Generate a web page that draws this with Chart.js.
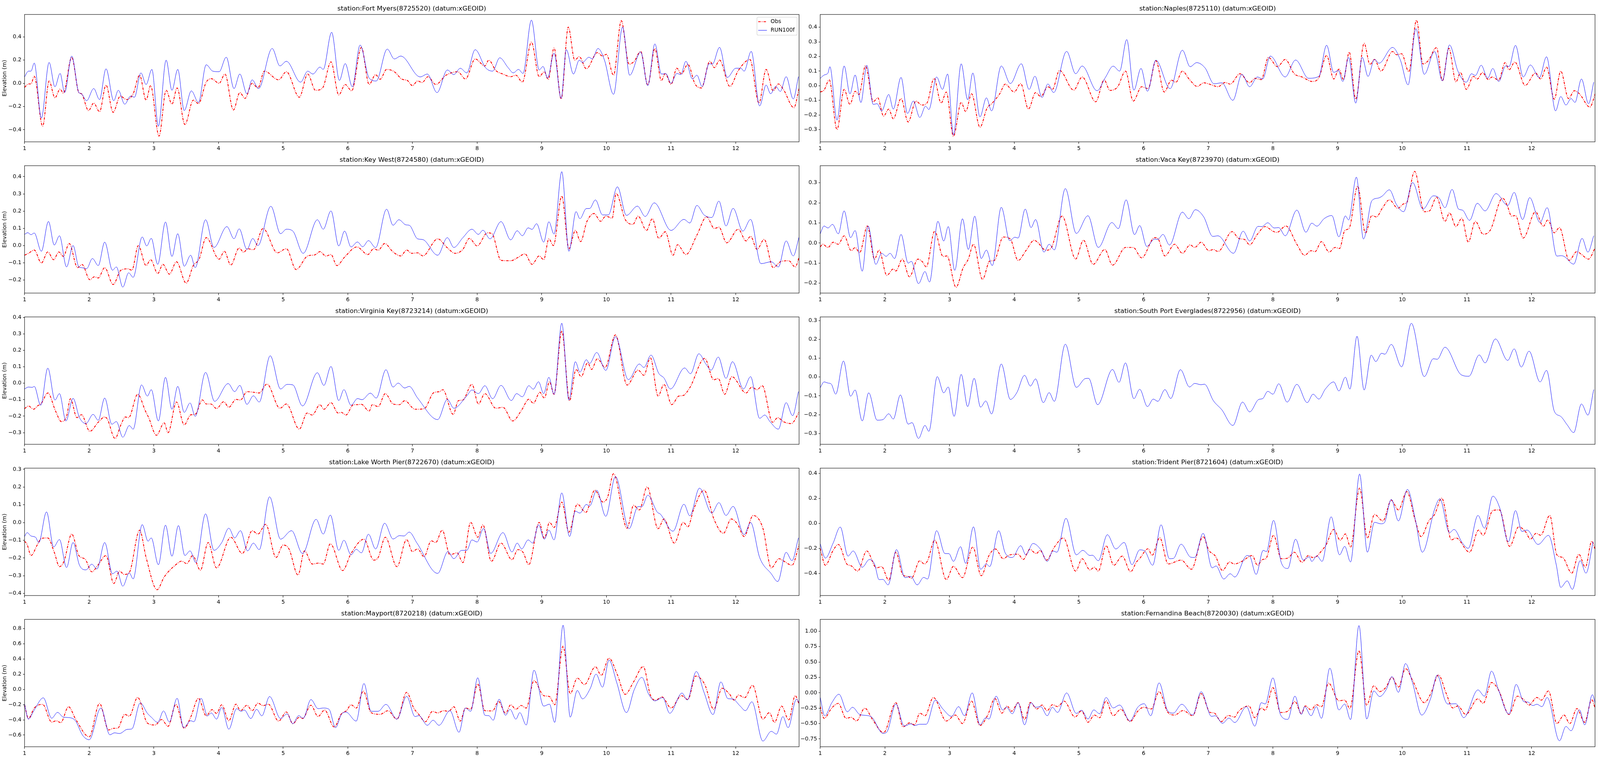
<!DOCTYPE html>
<html><head><meta charset="utf-8">
<script src="https://cdn.jsdelivr.net/npm/chart.js@4.4.1/dist/chart.umd.min.js"></script>
<style>html,body{margin:0;padding:0;background:#fff;overflow:hidden}canvas{position:absolute}</style>
</head><body>
<script>
const xTicks=[1,2,3,4,5,6,7,8,9,10,11,12];
const seriesLabels=['Obs','RUN100f'];
const fortMyersTicks=[-0.4,-0.2,0,0.2,0.4];
const naplesTicks=[-0.3,-0.2,-0.1,0,0.1,0.2,0.3,0.4];
const keyWestTicks=[-0.2,-0.1,0,0.1,0.2,0.3,0.4];
const vacaKeyTicks=[-0.2,-0.1,0,0.1,0.2,0.3];
const virginiaKeyTicks=[-0.3,-0.2,-0.1,0,0.1,0.2,0.3,0.4];
const southPortTicks=[-0.3,-0.2,-0.1,0,0.1,0.2,0.3];
const lakeWorthTicks=[-0.4,-0.3,-0.2,-0.1,0,0.1,0.2,0.3];
const tridentTicks=[-0.4,-0.2,0,0.2,0.4];
const mayportTicks=[-0.6,-0.4,-0.2,0,0.2,0.4,0.6,0.8];
const fernandinaTicks=[-0.75,-0.5,-0.25,0,0.25,0.5,0.75,1.0];
const fortMyersRun=[[1.00,0.055],[1.06,0.105],[1.10,0.105],[1.15,0.175],[1.26,-0.30],[1.38,0.18],[1.47,-0.03],[1.55,0.085],[1.62,-0.08],[1.73,0.235],[1.84,-0.08],[1.88,-0.09],[1.96,-0.15],[2.07,-0.045],[2.16,-0.14],[2.26,0.125],[2.38,-0.15],[2.45,-0.06],[2.55,-0.18],[2.64,-0.11],[2.70,-0.12],[2.80,0.09],[2.88,-0.01],[2.97,0.12],[3.07,-0.37],[3.19,0.20],[3.28,-0.06],[3.37,0.12],[3.47,-0.235],[3.58,-0.065],[3.69,-0.165],[3.81,0.16],[3.91,0.105],[4.01,0.10],[4.12,0.225],[4.24,-0.045],[4.33,0.08],[4.44,-0.09],[4.52,0.03],[4.62,-0.045],[4.83,0.30],[4.95,0.15],[5.05,0.19],[5.27,0.01],[5.38,0.105],[5.46,0.08],[5.57,0.14],[5.62,0.12],[5.75,0.44],[5.87,0.025],[5.96,0.17],[6.07,-0.03],[6.19,0.33],[6.33,0.045],[6.44,0.02],[6.61,0.295],[6.72,0.21],[6.82,0.235],[7.12,0.055],[7.23,0.08],[7.38,-0.08],[7.54,0.115],[7.64,0.075],[7.74,0.13],[7.84,0.09],[7.97,0.29],[8.13,0.135],[8.24,0.105],[8.35,0.22],[8.48,0.135],[8.56,0.09],[8.64,0.12],[8.71,0.085],[8.84,0.545],[8.96,0.115],[9.02,0.145],[9.09,0.045],[9.19,0.26],[9.30,-0.13],[9.38,0.29],[9.49,0.08],[9.58,0.20],[9.63,0.18],[9.73,0.225],[9.78,0.21],[9.87,0.30],[9.97,0.20],[10.11,-0.095],[10.25,0.485],[10.36,0.07],[10.53,0.27],[10.64,-0.02],[10.75,0.34],[10.85,0.08],[10.92,0.083],[11.00,0.0],[11.09,0.085],[11.15,0.075],[11.23,0.19],[11.33,0.037],[11.40,0.07],[11.48,-0.027],[11.59,0.17],[11.64,0.165],[11.75,0.31],[11.87,0.05],[12.00,0.13],[12.08,0.13],[12.13,0.105],[12.24,0.275],[12.37,-0.195],[12.47,-0.015],[12.54,-0.09],[12.62,-0.027],[12.69,-0.07],[12.78,0.057],[12.89,-0.135],[12.97,0.057]];
const fortMyersObs=[[1.00,-0.035],[1.06,-0.005],[1.10,-0.005],[1.15,0.06],[1.28,-0.37],[1.38,0.02],[1.47,-0.125],[1.55,-0.05],[1.60,-0.085],[1.73,0.225],[1.84,-0.08],[1.88,-0.09],[1.99,-0.235],[2.07,-0.17],[2.16,-0.245],[2.26,-0.015],[2.37,-0.25],[2.48,-0.11],[2.58,-0.14],[2.68,-0.09],[2.78,0.07],[2.88,-0.145],[2.95,-0.02],[3.08,-0.455],[3.19,-0.06],[3.28,-0.18],[3.36,-0.04],[3.48,-0.355],[3.61,-0.145],[3.69,-0.175],[3.81,0.01],[3.89,0.04],[4.01,0.0],[4.10,0.08],[4.23,-0.23],[4.33,-0.08],[4.41,-0.13],[4.52,0.0],[4.61,-0.04],[4.71,0.105],[4.93,0.03],[5.05,0.10],[5.25,-0.12],[5.38,0.08],[5.50,-0.06],[5.61,-0.04],[5.74,0.185],[5.86,-0.10],[5.96,-0.01],[6.06,-0.065],[6.21,0.31],[6.33,-0.01],[6.43,0.075],[6.50,0.035],[6.60,0.12],[6.72,0.10],[6.84,0.035],[6.92,0.025],[7.00,-0.02],[7.08,0.02],[7.15,0.007],[7.24,0.057],[7.36,-0.01],[7.52,0.07],[7.70,0.10],[7.82,0.037],[7.97,0.21],[8.12,0.15],[8.18,0.20],[8.29,0.11],[8.40,0.08],[8.52,0.057],[8.60,0.07],[8.70,0.01],[8.84,0.355],[8.96,0.057],[9.04,0.10],[9.10,0.033],[9.19,0.305],[9.30,-0.135],[9.41,0.485],[9.51,0.20],[9.58,0.23],[9.69,0.125],[9.86,0.265],[9.94,0.235],[10.00,0.25],[10.11,0.07],[10.23,0.54],[10.35,0.165],[10.43,0.19],[10.53,0.275],[10.64,-0.015],[10.75,0.30],[10.85,0.023],[10.91,0.085],[11.00,-0.008],[11.09,0.13],[11.16,0.08],[11.26,0.165],[11.37,-0.005],[11.47,-0.04],[11.60,0.19],[11.67,0.135],[11.75,0.20],[11.91,-0.027],[12.04,0.11],[12.22,0.205],[12.36,-0.17],[12.47,0.12],[12.58,-0.065],[12.66,-0.005],[12.74,-0.055],[12.90,-0.21],[12.98,-0.045]];
const naplesRun=[[1.00,0.05],[1.06,0.073],[1.12,0.087],[1.15,0.13],[1.26,-0.235],[1.37,0.135],[1.46,-0.056],[1.54,0.073],[1.63,-0.115],[1.72,0.14],[1.82,-0.128],[1.88,-0.123],[1.95,-0.172],[2.06,-0.06],[2.13,-0.16],[2.25,0.057],[2.35,-0.19],[2.44,-0.105],[2.54,-0.217],[2.63,-0.14],[2.68,-0.163],[2.80,0.06],[2.89,-0.025],[2.97,0.08],[3.06,-0.337],[3.18,0.15],[3.28,-0.096],[3.36,0.087],[3.47,-0.213],[3.57,-0.083],[3.65,-0.172],[3.80,0.135],[3.94,0.015],[4.11,0.15],[4.23,-0.025],[4.32,0.065],[4.43,-0.08],[4.52,0.012],[4.61,-0.047],[4.81,0.235],[4.95,0.082],[5.05,0.135],[5.28,-0.034],[5.41,0.057],[5.53,0.134],[5.63,0.10],[5.74,0.316],[5.85,-0.03],[5.96,0.118],[6.06,-0.038],[6.19,0.175],[6.41,-0.02],[6.60,0.243],[6.72,0.13],[6.82,0.158],[6.95,0.122],[7.09,0.013],[7.21,0.02],[7.38,-0.10],[7.52,0.078],[7.64,-0.007],[7.76,0.06],[7.84,0.046],[7.96,0.203],[8.19,0.06],[8.35,0.176],[8.55,0.051],[8.71,0.064],[8.83,0.277],[8.94,0.091],[9.01,0.104],[9.08,0.029],[9.17,0.194],[9.28,-0.119],[9.38,0.194],[9.47,0.064],[9.57,0.18],[9.64,0.154],[9.85,0.262],[9.97,0.176],[10.09,0.006],[10.21,0.39],[10.34,0.078],[10.50,0.234],[10.62,0.033],[10.73,0.279],[10.86,0.10],[10.99,0.024],[11.07,0.082],[11.13,0.07],[11.22,0.14],[11.32,0.051],[11.40,0.118],[11.49,0.029],[11.60,0.136],[11.65,0.131],[11.75,0.276],[11.87,0.06],[11.98,0.142],[12.12,0.055],[12.23,0.198],[12.37,-0.172],[12.45,-0.074],[12.53,-0.132],[12.61,-0.088],[12.67,-0.114],[12.77,0.046],[12.88,-0.123],[12.96,0.024]];
const naplesObs=[[1.00,-0.043],[1.06,-0.03],[1.14,0.04],[1.26,-0.30],[1.37,-0.025],[1.46,-0.128],[1.54,-0.038],[1.60,-0.06],[1.70,0.136],[1.82,-0.11],[1.89,-0.083],[1.98,-0.208],[2.06,-0.16],[2.13,-0.226],[2.25,-0.088],[2.36,-0.248],[2.48,-0.105],[2.57,-0.132],[2.65,-0.119],[2.76,0.05],[2.87,-0.119],[2.95,-0.043],[3.06,-0.346],[3.18,-0.114],[3.25,-0.177],[3.34,-0.055],[3.47,-0.284],[3.58,-0.153],[3.66,-0.119],[3.78,-0.052],[3.86,0.011],[4.00,-0.043],[4.10,0.015],[4.22,-0.16],[4.33,-0.047],[4.41,-0.074],[4.52,-0.007],[4.59,-0.025],[4.70,0.105],[4.92,-0.03],[5.05,0.06],[5.26,-0.11],[5.39,0.04],[5.48,-0.032],[5.60,-0.007],[5.72,0.10],[5.84,-0.105],[5.97,-0.007],[6.07,-0.02],[6.19,0.171],[6.32,-0.043],[6.43,0.038],[6.50,0.024],[6.60,0.10],[6.71,0.042],[6.83,-0.005],[6.93,0.02],[7.05,0.006],[7.15,-0.007],[7.26,0.022],[7.34,0.011],[7.49,0.082],[7.64,0.02],[7.72,0.05],[7.82,0.042],[7.93,0.194],[8.07,0.13],[8.19,0.18],[8.33,0.082],[8.45,0.06],[8.61,0.029],[8.71,0.055],[8.83,0.207],[8.94,0.046],[9.02,0.113],[9.09,0.042],[9.18,0.23],[9.28,-0.092],[9.41,0.29],[9.50,0.145],[9.57,0.18],[9.67,0.10],[9.85,0.234],[9.91,0.212],[9.99,0.219],[10.10,0.096],[10.22,0.448],[10.32,0.149],[10.40,0.171],[10.53,0.261],[10.62,0.033],[10.72,0.256],[10.83,0.026],[10.90,0.091],[10.99,-0.025],[11.10,0.064],[11.16,0.046],[11.24,0.091],[11.33,0.042],[11.39,0.06],[11.49,0.038],[11.59,0.158],[11.65,0.109],[11.74,0.162],[11.90,0.002],[12.06,0.087],[12.14,0.046],[12.23,0.127],[12.35,-0.092],[12.45,0.10],[12.57,-0.088],[12.66,-0.034],[12.74,-0.056],[12.90,-0.146],[12.99,-0.047]];
const keyWestRun=[[1.00,0.065],[1.05,0.075],[1.10,0.063],[1.15,0.073],[1.26,-0.033],[1.37,0.14],[1.46,0.003],[1.54,0.057],[1.65,-0.124],[1.75,0.0],[1.84,-0.124],[1.88,-0.128],[1.96,-0.134],[2.05,-0.075],[2.14,-0.116],[2.24,0.02],[2.36,-0.143],[2.42,-0.124],[2.52,-0.241],[2.61,-0.158],[2.68,-0.184],[2.82,0.05],[2.89,-0.002],[2.96,0.042],[3.06,-0.109],[3.18,0.137],[3.28,-0.063],[3.37,0.069],[3.47,-0.12],[3.57,-0.056],[3.64,-0.128],[3.80,0.15],[3.93,-0.011],[4.13,0.11],[4.24,0.04],[4.32,0.097],[4.44,-0.022],[4.53,0.041],[4.61,0.0],[4.81,0.228],[4.96,0.069],[5.05,0.095],[5.15,0.084],[5.31,-0.045],[5.53,0.15],[5.62,0.095],[5.74,0.201],[5.86,-0.002],[5.95,0.084],[6.05,-0.008],[6.15,0.021],[6.23,-0.007],[6.32,0.029],[6.43,-0.012],[6.60,0.211],[6.70,0.118],[6.79,0.15],[6.90,0.12],[6.95,0.118],[7.08,0.039],[7.16,0.035],[7.39,-0.056],[7.54,0.046],[7.64,-0.011],[7.78,0.046],[7.92,0.095],[8.02,0.065],[8.09,0.089],[8.20,0.039],[8.37,0.139],[8.52,0.033],[8.62,0.086],[8.70,0.057],[8.79,0.103],[8.85,0.094],[8.92,0.127],[9.03,0.02],[9.11,0.138],[9.19,0.067],[9.31,0.429],[9.42,-0.033],[9.53,0.197],[9.59,0.156],[9.69,0.215],[9.74,0.215],[9.83,0.265],[9.94,0.178],[10.03,0.178],[10.17,0.341],[10.31,0.175],[10.48,0.229],[10.60,0.169],[10.74,0.248],[11.00,0.088],[11.20,0.152],[11.29,0.131],[11.40,0.233],[11.51,0.178],[11.63,0.163],[11.74,0.258],[11.85,0.114],[11.96,0.216],[12.11,0.084],[12.23,0.152],[12.39,-0.105],[12.55,-0.094],[12.66,-0.124],[12.78,0.027],[12.89,-0.06],[12.98,0.05]];
const keyWestObs=[[1.00,-0.056],[1.06,-0.045],[1.15,-0.026],[1.26,-0.101],[1.36,-0.037],[1.45,-0.082],[1.53,-0.037],[1.60,-0.063],[1.69,0.012],[1.82,-0.128],[1.89,-0.11],[2.01,-0.198],[2.08,-0.181],[2.14,-0.188],[2.24,-0.128],[2.37,-0.226],[2.49,-0.143],[2.60,-0.135],[2.66,-0.143],[2.76,0.0],[2.88,-0.116],[2.95,-0.082],[3.06,-0.162],[3.14,-0.109],[3.24,-0.166],[3.35,-0.094],[3.50,-0.218],[3.61,-0.116],[3.70,-0.079],[3.81,0.046],[4.01,-0.079],[4.09,-0.033],[4.19,-0.113],[4.32,-0.014],[4.39,-0.039],[4.45,-0.018],[4.54,-0.024],[4.69,0.099],[4.91,-0.042],[5.05,-0.018],[5.20,-0.139],[5.38,-0.06],[5.49,-0.054],[5.57,-0.035],[5.66,-0.061],[5.74,-0.052],[5.83,-0.116],[5.95,-0.067],[6.14,-0.008],[6.31,-0.052],[6.40,-0.018],[6.47,-0.027],[6.57,0.012],[6.70,-0.037],[6.82,-0.06],[6.91,-0.026],[6.99,-0.045],[7.08,-0.042],[7.16,-0.06],[7.39,0.039],[7.54,-0.013],[7.66,-0.045],[7.78,-0.022],[7.88,0.042],[8.00,-0.002],[8.16,0.074],[8.23,0.069],[8.37,-0.086],[8.52,-0.088],[8.64,-0.067],[8.74,-0.048],[8.85,-0.109],[8.96,-0.06],[9.03,-0.082],[9.11,0.039],[9.18,0.0],[9.31,0.288],[9.42,-0.018],[9.52,0.088],[9.60,0.023],[9.70,0.141],[9.81,0.186],[9.91,0.141],[9.99,0.171],[10.09,0.159],[10.15,0.303],[10.29,0.152],[10.41,0.123],[10.49,0.171],[10.62,0.088],[10.71,0.156],[10.81,0.042],[10.91,0.08],[11.03,-0.056],[11.10,0.005],[11.23,-0.052],[11.40,0.061],[11.55,0.167],[11.67,0.099],[11.74,0.107],[11.86,0.016],[12.04,0.095],[12.16,0.027],[12.23,0.054],[12.33,-0.022],[12.44,0.036],[12.58,-0.128],[12.70,-0.092],[12.82,-0.088],[12.92,-0.124],[12.99,-0.056]];
const vacaKeyRun=[[1.00,0.046],[1.06,0.085],[1.12,0.075],[1.19,0.093],[1.28,0.046],[1.37,0.16],[1.47,0.027],[1.54,0.062],[1.65,-0.14],[1.74,0.085],[1.86,-0.106],[1.95,-0.051],[2.02,-0.066],[2.08,-0.051],[2.15,-0.077],[2.25,0.043],[2.36,-0.10],[2.41,-0.091],[2.52,-0.202],[2.62,-0.142],[2.69,-0.194],[2.82,0.108],[2.91,0.01],[2.98,0.082],[3.08,-0.136],[3.20,0.121],[3.29,-0.032],[3.39,0.134],[3.49,-0.077],[3.57,-0.035],[3.66,-0.112],[3.80,0.178],[3.93,0.012],[4.01,0.029],[4.06,0.025],[4.17,0.169],[4.26,0.077],[4.33,0.117],[4.46,-0.045],[4.54,-0.006],[4.62,-0.034],[4.79,0.271],[4.96,0.048],[5.14,0.136],[5.30,-0.022],[5.51,0.102],[5.61,0.072],[5.73,0.215],[5.86,0.042],[5.94,0.087],[6.05,-0.017],[6.17,0.02],[6.22,0.018],[6.30,0.043],[6.40,-0.01],[6.60,0.154],[6.70,0.121],[6.80,0.166],[6.93,0.13],[7.07,0.033],[7.15,0.036],[7.39,-0.051],[7.54,0.059],[7.64,0.01],[7.77,0.083],[7.83,0.082],[7.92,0.101],[8.02,0.075],[8.09,0.077],[8.19,0.036],[8.37,0.164],[8.51,0.054],[8.60,0.099],[8.68,0.084],[8.79,0.121],[8.91,0.137],[9.02,0.031],[9.12,0.135],[9.17,0.115],[9.29,0.328],[9.40,0.02],[9.53,0.211],[9.63,0.224],[9.69,0.234],[9.80,0.265],[9.91,0.192],[10.02,0.156],[10.16,0.301],[10.32,0.169],[10.48,0.235],[10.57,0.224],[10.66,0.176],[10.77,0.267],[10.87,0.169],[10.93,0.164],[11.04,0.113],[11.16,0.198],[11.28,0.16],[11.45,0.246],[11.63,0.187],[11.73,0.252],[11.86,0.117],[11.97,0.226],[12.13,0.102],[12.24,0.176],[12.39,-0.065],[12.45,-0.063],[12.50,-0.066],[12.65,-0.105],[12.78,0.023],[12.87,-0.045],[12.96,0.036]];
const vacaKeyObs=[[1.00,-0.019],[1.04,-0.006],[1.12,-0.022],[1.20,0.004],[1.28,-0.006],[1.37,0.036],[1.48,-0.038],[1.54,-0.022],[1.61,-0.048],[1.73,0.085],[1.84,-0.08],[1.91,-0.035],[2.03,-0.161],[2.13,-0.129],[2.17,-0.139],[2.27,-0.08],[2.38,-0.168],[2.51,-0.08],[2.58,-0.093],[2.64,-0.119],[2.77,0.059],[2.90,-0.067],[2.96,-0.064],[3.10,-0.22],[3.21,-0.123],[3.29,-0.08],[3.37,-0.006],[3.51,-0.181],[3.62,-0.09],[3.69,-0.087],[3.83,0.03],[3.94,0.02],[4.06,-0.087],[4.18,-0.038],[4.31,0.014],[4.36,0.004],[4.49,-0.036],[4.57,-0.025],[4.74,0.134],[4.95,-0.079],[5.07,0.014],[5.22,-0.106],[5.40,-0.032],[5.52,-0.11],[5.72,-0.022],[5.84,-0.022],[5.97,-0.074],[6.17,0.027],[6.22,0.023],[6.33,-0.064],[6.48,-0.006],[6.60,-0.051],[6.72,-0.009],[6.79,-0.022],[6.89,0.004],[7.01,-0.038],[7.08,-0.032],[7.15,-0.042],[7.37,0.057],[7.47,0.023],[7.56,0.018],[7.64,-0.009],[7.76,0.044],[7.88,0.082],[8.00,0.059],[8.06,0.053],[8.20,0.085],[8.37,-0.006],[8.49,-0.061],[8.59,-0.038],[8.65,-0.043],[8.75,0.007],[8.87,-0.045],[8.96,-0.022],[9.03,-0.027],[9.11,0.062],[9.18,0.075],[9.31,0.283],[9.43,0.049],[9.53,0.137],[9.60,0.13],[9.69,0.173],[9.80,0.215],[9.93,0.173],[10.02,0.195],[10.07,0.202],[10.19,0.357],[10.34,0.156],[10.42,0.16],[10.53,0.228],[10.66,0.108],[10.73,0.15],[10.83,0.082],[10.92,0.124],[11.02,0.005],[11.13,0.108],[11.25,0.044],[11.36,0.064],[11.55,0.224],[11.62,0.189],[11.69,0.134],[11.75,0.137],[11.87,0.025],[12.06,0.156],[12.18,0.083],[12.25,0.115],[12.35,0.051],[12.43,0.077],[12.58,-0.086],[12.70,-0.042],[12.76,-0.054],[12.88,-0.08],[12.98,-0.025]];
const virginiaKeyRun=[[1.00,-0.035],[1.06,-0.023],[1.12,-0.025],[1.15,-0.019],[1.25,-0.134],[1.36,0.092],[1.47,-0.102],[1.54,-0.063],[1.64,-0.229],[1.75,-0.092],[1.85,-0.209],[1.95,-0.245],[2.06,-0.189],[2.14,-0.225],[2.24,-0.09],[2.35,-0.249],[2.42,-0.233],[2.52,-0.328],[2.62,-0.257],[2.68,-0.279],[2.81,-0.01],[2.90,-0.078],[2.96,-0.039],[3.07,-0.229],[3.18,0.036],[3.28,-0.158],[3.37,-0.019],[3.47,-0.177],[3.56,-0.12],[3.64,-0.201],[3.80,0.066],[3.94,-0.11],[4.15,-0.002],[4.25,-0.051],[4.33,-0.013],[4.44,-0.128],[4.54,-0.076],[4.63,-0.114],[4.80,0.167],[4.96,-0.035],[5.06,-0.007],[5.15,-0.01],[5.30,-0.138],[5.53,0.064],[5.63,-0.013],[5.74,0.102],[5.86,-0.105],[5.94,-0.039],[6.05,-0.134],[6.15,-0.093],[6.22,-0.10],[6.35,-0.06],[6.44,-0.09],[6.59,0.082],[6.70,-0.023],[6.78,0.001],[6.88,-0.029],[6.95,-0.019],[7.08,-0.09],[7.39,-0.221],[7.54,-0.098],[7.64,-0.152],[7.84,-0.077],[7.92,-0.041],[8.02,-0.063],[8.12,-0.015],[8.24,-0.094],[8.37,-0.013],[8.53,-0.105],[8.61,-0.063],[8.70,-0.082],[8.80,-0.015],[8.87,-0.036],[8.95,0.009],[9.03,-0.063],[9.11,0.036],[9.19,-0.067],[9.31,0.365],[9.42,-0.102],[9.52,0.131],[9.59,0.068],[9.69,0.143],[9.74,0.12],[9.85,0.187],[9.99,0.078],[10.14,0.283],[10.34,0.022],[10.51,0.117],[10.58,0.096],[10.69,0.171],[10.81,0.06],[10.89,0.032],[10.99,-0.035],[11.21,0.093],[11.30,0.058],[11.43,0.179],[11.54,0.116],[11.62,0.08],[11.73,0.159],[11.85,0.03],[11.95,0.131],[12.12,-0.035],[12.23,0.04],[12.37,-0.213],[12.45,-0.193],[12.53,-0.233],[12.66,-0.279],[12.78,-0.118],[12.88,-0.197],[12.97,-0.051]];
const virginiaKeyObs=[[1.00,-0.155],[1.06,-0.138],[1.14,-0.158],[1.20,-0.138],[1.26,-0.122],[1.36,-0.059],[1.48,-0.169],[1.57,-0.233],[1.65,-0.201],[1.71,-0.094],[1.81,-0.209],[1.88,-0.191],[2.01,-0.292],[2.14,-0.237],[2.24,-0.205],[2.28,-0.217],[2.40,-0.336],[2.49,-0.253],[2.56,-0.205],[2.61,-0.209],[2.75,-0.067],[2.87,-0.169],[2.92,-0.209],[3.04,-0.316],[3.16,-0.241],[3.22,-0.30],[3.35,-0.114],[3.47,-0.253],[3.57,-0.192],[3.64,-0.189],[3.75,-0.101],[3.81,-0.126],[3.88,-0.126],[3.97,-0.154],[4.08,-0.112],[4.16,-0.146],[4.27,-0.098],[4.34,-0.102],[4.44,-0.051],[4.55,-0.055],[4.63,-0.059],[4.75,-0.005],[4.95,-0.152],[5.05,-0.126],[5.25,-0.279],[5.37,-0.181],[5.45,-0.193],[5.57,-0.13],[5.63,-0.158],[5.74,-0.118],[5.85,-0.181],[5.90,-0.177],[5.97,-0.193],[6.09,-0.13],[6.15,-0.13],[6.21,-0.128],[6.33,-0.169],[6.38,-0.13],[6.47,-0.142],[6.58,-0.063],[6.70,-0.126],[6.80,-0.13],[6.88,-0.106],[7.04,-0.158],[7.18,-0.155],[7.33,-0.057],[7.42,-0.051],[7.47,-0.039],[7.63,-0.189],[7.71,-0.106],[7.78,-0.102],[7.92,-0.006],[8.02,-0.126],[8.12,-0.063],[8.29,-0.152],[8.40,-0.146],[8.55,-0.229],[8.69,-0.162],[8.80,-0.097],[8.87,-0.122],[8.97,-0.055],[9.04,-0.09],[9.12,0.009],[9.19,-0.067],[9.31,0.318],[9.43,-0.106],[9.53,0.084],[9.61,0.04],[9.71,0.125],[9.77,0.084],[9.86,0.149],[9.98,0.096],[10.14,0.294],[10.32,-0.011],[10.49,0.08],[10.58,0.048],[10.68,0.155],[10.80,-0.078],[10.89,-0.007],[11.01,-0.13],[11.12,-0.078],[11.19,-0.074],[11.29,-0.027],[11.52,0.151],[11.66,0.021],[11.73,0.029],[11.83,-0.067],[11.94,0.04],[12.16,-0.059],[12.25,-0.023],[12.33,-0.039],[12.41,-0.015],[12.57,-0.237],[12.65,-0.209],[12.74,-0.234],[12.86,-0.245],[12.98,-0.176]];
const southPortRun=[[1.00,-0.057],[1.06,-0.026],[1.12,-0.032],[1.17,-0.037],[1.24,-0.091],[1.36,0.085],[1.47,-0.102],[1.54,-0.069],[1.65,-0.233],[1.75,-0.084],[1.88,-0.229],[1.97,-0.226],[2.06,-0.195],[2.13,-0.223],[2.24,-0.095],[2.36,-0.25],[2.42,-0.242],[2.52,-0.326],[2.62,-0.257],[2.68,-0.288],[2.81,0.002],[2.91,-0.084],[2.98,-0.053],[3.07,-0.209],[3.18,0.014],[3.28,-0.157],[3.38,-0.007],[3.48,-0.16],[3.56,-0.127],[3.65,-0.196],[3.80,0.069],[3.94,-0.119],[4.04,-0.083],[4.16,0.009],[4.25,-0.048],[4.33,-0.01],[4.45,-0.136],[4.54,-0.083],[4.62,-0.129],[4.79,0.174],[4.96,-0.055],[5.10,-0.008],[5.15,-0.007],[5.29,-0.147],[5.52,0.04],[5.62,-0.028],[5.72,0.075],[5.85,-0.115],[5.94,-0.065],[6.06,-0.157],[6.15,-0.117],[6.22,-0.129],[6.33,-0.067],[6.42,-0.114],[6.57,0.039],[6.71,-0.053],[6.79,-0.034],[6.89,-0.041],[6.94,-0.038],[7.08,-0.126],[7.21,-0.174],[7.38,-0.257],[7.53,-0.133],[7.64,-0.185],[7.78,-0.119],[7.84,-0.115],[7.92,-0.076],[8.00,-0.091],[8.09,-0.036],[8.22,-0.133],[8.37,-0.039],[8.53,-0.136],[8.62,-0.091],[8.71,-0.117],[8.81,-0.064],[8.94,-0.026],[9.02,-0.074],[9.12,-0.001],[9.19,-0.064],[9.30,0.216],[9.41,-0.069],[9.52,0.116],[9.59,0.082],[9.68,0.126],[9.73,0.121],[9.83,0.173],[9.99,0.054],[10.14,0.285],[10.34,0.002],[10.48,0.097],[10.54,0.094],[10.66,0.158],[10.91,0.012],[11.03,0.004],[11.19,0.117],[11.28,0.075],[11.44,0.202],[11.63,0.088],[11.73,0.149],[11.84,0.053],[11.96,0.137],[12.13,-0.026],[12.23,0.035],[12.35,-0.181],[12.45,-0.209],[12.55,-0.254],[12.65,-0.295],[12.77,-0.143],[12.87,-0.202],[12.96,-0.067]];
const southPortObs=[];
const lakeWorthRun=[[1.00,-0.079],[1.04,-0.057],[1.10,-0.076],[1.17,-0.083],[1.22,-0.113],[1.34,0.06],[1.45,-0.138],[1.54,-0.096],[1.65,-0.254],[1.75,-0.113],[1.85,-0.241],[1.95,-0.267],[2.04,-0.235],[2.12,-0.262],[2.24,-0.113],[2.36,-0.289],[2.43,-0.274],[2.52,-0.359],[2.62,-0.284],[2.68,-0.318],[2.82,-0.012],[2.91,-0.105],[2.96,-0.087],[3.07,-0.238],[3.18,-0.015],[3.28,-0.19],[3.38,-0.017],[3.48,-0.186],[3.56,-0.16],[3.65,-0.226],[3.80,0.049],[3.93,-0.157],[4.05,-0.113],[4.16,-0.032],[4.25,-0.087],[4.34,-0.046],[4.45,-0.16],[4.54,-0.116],[4.63,-0.153],[4.79,0.145],[4.96,-0.094],[5.13,-0.046],[5.30,-0.175],[5.51,0.018],[5.62,-0.065],[5.73,0.042],[5.86,-0.157],[5.94,-0.10],[6.05,-0.182],[6.13,-0.151],[6.21,-0.171],[6.32,-0.066],[6.43,-0.149],[6.57,-0.004],[6.70,-0.093],[6.80,-0.074],[6.87,-0.076],[6.95,-0.054],[7.07,-0.116],[7.39,-0.287],[7.55,-0.164],[7.64,-0.204],[7.76,-0.157],[7.84,-0.157],[7.92,-0.098],[8.00,-0.11],[8.10,-0.034],[8.21,-0.174],[8.40,-0.057],[8.54,-0.166],[8.62,-0.116],[8.69,-0.149],[8.79,-0.098],[8.86,-0.116],[8.95,-0.013],[9.04,-0.094],[9.11,-0.043],[9.19,-0.098],[9.31,0.167],[9.43,-0.079],[9.52,0.064],[9.59,0.053],[9.69,0.102],[9.74,0.093],[9.85,0.182],[9.99,0.035],[10.14,0.259],[10.35,-0.035],[10.49,0.09],[10.55,0.09],[10.64,0.154],[10.79,0.057],[10.83,0.049],[11.03,-0.049],[11.20,0.103],[11.29,0.038],[11.44,0.194],[11.63,0.053],[11.74,0.112],[11.85,0.04],[11.96,0.091],[12.13,-0.068],[12.23,0.0],[12.37,-0.197],[12.55,-0.289],[12.65,-0.333],[12.78,-0.168],[12.87,-0.215],[12.97,-0.087]];
const lakeWorthObs=[[1.00,-0.105],[1.04,-0.124],[1.10,-0.186],[1.20,-0.124],[1.26,-0.09],[1.36,-0.087],[1.46,-0.168],[1.54,-0.249],[1.61,-0.219],[1.73,-0.065],[1.84,-0.186],[1.94,-0.208],[2.04,-0.278],[2.14,-0.238],[2.26,-0.186],[2.38,-0.344],[2.47,-0.274],[2.54,-0.293],[2.62,-0.282],[2.78,-0.043],[2.88,-0.197],[3.05,-0.379],[3.16,-0.307],[3.34,-0.238],[3.43,-0.218],[3.51,-0.232],[3.60,-0.186],[3.72,-0.269],[3.84,-0.113],[3.97,-0.256],[4.19,-0.083],[4.37,-0.175],[4.41,-0.153],[4.52,-0.046],[4.61,-0.065],[4.73,-0.01],[4.89,-0.197],[5.00,-0.127],[5.09,-0.149],[5.23,-0.296],[5.33,-0.16],[5.45,-0.234],[5.55,-0.229],[5.62,-0.234],[5.73,-0.12],[5.92,-0.271],[6.05,-0.175],[6.25,-0.094],[6.40,-0.212],[6.47,-0.197],[6.58,-0.083],[6.76,-0.249],[6.91,-0.096],[7.00,-0.164],[7.08,-0.149],[7.18,-0.193],[7.29,-0.103],[7.36,-0.113],[7.46,-0.043],[7.58,-0.182],[7.69,-0.171],[7.78,-0.226],[7.90,0.001],[8.01,-0.083],[8.09,-0.013],[8.22,-0.219],[8.37,-0.116],[8.54,-0.21],[8.63,-0.153],[8.71,-0.168],[8.80,-0.238],[8.96,0.001],[9.04,-0.09],[9.12,0.001],[9.19,-0.028],[9.31,0.115],[9.42,-0.054],[9.55,0.104],[9.68,0.057],[9.82,0.182],[9.95,0.115],[10.02,0.145],[10.11,0.275],[10.32,-0.032],[10.42,0.097],[10.51,0.071],[10.63,0.201],[10.80,-0.035],[10.89,0.02],[11.05,-0.116],[11.19,0.001],[11.26,-0.024],[11.35,0.075],[11.51,0.182],[11.67,0.013],[11.81,-0.061],[11.93,0.02],[12.03,-0.01],[12.13,-0.079],[12.27,0.04],[12.42,-0.032],[12.55,-0.256],[12.67,-0.204],[12.75,-0.219],[12.87,-0.241],[12.99,-0.113]];
const tridentRun=[[1.00,-0.163],[1.08,-0.277],[1.20,-0.157],[1.31,-0.029],[1.43,-0.261],[1.51,-0.22],[1.65,-0.35],[1.76,-0.288],[1.84,-0.324],[1.91,-0.449],[1.97,-0.447],[2.05,-0.491],[2.18,-0.209],[2.31,-0.433],[2.40,-0.423],[2.50,-0.491],[2.60,-0.431],[2.66,-0.444],[2.80,-0.058],[2.93,-0.241],[2.99,-0.241],[3.06,-0.303],[3.17,-0.186],[3.25,-0.319],[3.37,-0.027],[3.48,-0.366],[3.57,-0.324],[3.62,-0.345],[3.76,-0.058],[3.86,-0.235],[3.97,-0.272],[4.10,-0.178],[4.18,-0.251],[4.29,-0.16],[4.41,-0.209],[4.51,-0.303],[4.60,-0.22],[4.66,-0.23],[4.80,0.041],[4.96,-0.251],[5.06,-0.215],[5.17,-0.256],[5.21,-0.254],[5.30,-0.298],[5.44,-0.09],[5.57,-0.204],[5.70,-0.152],[5.82,-0.329],[5.94,-0.211],[6.02,-0.222],[6.14,-0.334],[6.27,-0.011],[6.40,-0.282],[6.46,-0.28],[6.58,-0.166],[6.73,-0.27],[6.79,-0.272],[6.92,-0.079],[7.06,-0.355],[7.12,-0.34],[7.24,-0.444],[7.34,-0.402],[7.41,-0.428],[7.60,-0.256],[7.64,-0.261],[7.74,-0.407],[7.85,-0.215],[7.90,-0.225],[8.01,0.025],[8.13,-0.314],[8.23,-0.36],[8.35,-0.126],[8.47,-0.293],[8.56,-0.267],[8.60,-0.303],[8.68,-0.259],[8.76,-0.303],[8.90,0.053],[9.03,-0.251],[9.11,-0.183],[9.20,-0.308],[9.34,0.395],[9.46,-0.23],[9.57,0.009],[9.67,-0.003],[9.72,0.004],[9.83,0.192],[9.94,0.02],[10.08,0.272],[10.20,0.035],[10.31,-0.23],[10.50,0.114],[10.58,0.197],[10.73,-0.074],[10.80,-0.048],[10.93,-0.157],[11.02,-0.199],[11.17,0.064],[11.27,-0.038],[11.40,0.218],[11.51,0.119],[11.64,-0.147],[11.75,0.103],[11.85,-0.064],[11.93,-0.053],[12.10,-0.168],[12.26,-0.095],[12.38,-0.329],[12.45,-0.511],[12.55,-0.459],[12.63,-0.527],[12.75,-0.298],[12.84,-0.397],[12.95,-0.147]];
const tridentObs=[[1.00,-0.199],[1.08,-0.334],[1.20,-0.215],[1.28,-0.168],[1.42,-0.329],[1.47,-0.336],[1.58,-0.381],[1.72,-0.22],[1.87,-0.355],[1.95,-0.345],[2.06,-0.454],[2.17,-0.23],[2.28,-0.413],[2.36,-0.423],[2.41,-0.439],[2.54,-0.298],[2.61,-0.324],[2.66,-0.298],[2.77,-0.134],[2.95,-0.449],[3.06,-0.343],[3.20,-0.433],[3.36,-0.189],[3.49,-0.418],[3.61,-0.256],[3.71,-0.204],[3.83,-0.282],[3.92,-0.253],[4.06,-0.246],[4.14,-0.288],[4.24,-0.207],[4.34,-0.241],[4.40,-0.215],[4.50,-0.293],[4.62,-0.189],[4.76,-0.116],[4.95,-0.381],[5.05,-0.282],[5.17,-0.371],[5.24,-0.35],[5.30,-0.381],[5.42,-0.178],[5.54,-0.334],[5.67,-0.261],[5.80,-0.386],[5.89,-0.308],[5.94,-0.28],[6.07,-0.202],[6.13,-0.256],[6.25,-0.114],[6.38,-0.324],[6.58,-0.293],[6.74,-0.366],[6.92,-0.105],[7.01,-0.215],[7.11,-0.261],[7.22,-0.376],[7.33,-0.308],[7.40,-0.324],[7.52,-0.303],[7.68,-0.256],[7.76,-0.334],[7.84,-0.288],[7.89,-0.282],[8.01,-0.095],[8.13,-0.282],[8.23,-0.277],[8.33,-0.23],[8.45,-0.311],[8.55,-0.256],[8.61,-0.272],[8.68,-0.261],[8.75,-0.22],[8.82,-0.173],[8.94,-0.048],[9.04,-0.134],[9.12,-0.084],[9.20,-0.189],[9.34,0.282],[9.46,-0.116],[9.57,0.072],[9.70,0.02],[9.83,0.186],[9.94,0.108],[10.07,0.254],[10.20,0.025],[10.29,-0.105],[10.41,0.02],[10.50,0.072],[10.61,0.202],[10.76,-0.131],[10.83,-0.116],[11.04,-0.23],[11.18,-0.053],[11.25,-0.095],[11.40,0.103],[11.50,0.108],[11.66,-0.183],[11.80,-0.027],[11.91,-0.069],[11.98,-0.126],[12.07,-0.079],[12.14,-0.095],[12.28,0.064],[12.39,-0.251],[12.48,-0.272],[12.62,-0.397],[12.73,-0.246],[12.83,-0.35],[12.93,-0.142],[12.98,-0.204]];
const mayportRun=[[1.00,-0.194],[1.06,-0.391],[1.15,-0.271],[1.29,-0.111],[1.42,-0.379],[1.51,-0.302],[1.60,-0.365],[1.66,-0.369],[1.78,-0.405],[1.90,-0.605],[2.00,-0.662],[2.18,-0.245],[2.32,-0.597],[2.39,-0.571],[2.47,-0.58],[2.59,-0.525],[2.66,-0.52],[2.79,-0.177],[2.90,-0.314],[2.96,-0.365],[3.06,-0.434],[3.15,-0.283],[3.24,-0.43],[3.36,-0.117],[3.46,-0.503],[3.57,-0.412],[3.62,-0.425],[3.73,-0.117],[3.83,-0.348],[3.89,-0.31],[3.97,-0.391],[4.05,-0.237],[4.16,-0.523],[4.28,-0.254],[4.35,-0.288],[4.40,-0.271],[4.50,-0.383],[4.59,-0.262],[4.67,-0.348],[4.79,-0.094],[4.96,-0.383],[5.06,-0.322],[5.15,-0.451],[5.24,-0.345],[5.31,-0.379],[5.43,-0.134],[5.54,-0.254],[5.62,-0.245],[5.71,-0.262],[5.81,-0.503],[5.90,-0.331],[5.97,-0.297],[6.13,-0.417],[6.25,0.077],[6.36,-0.288],[6.47,-0.288],[6.59,-0.197],[6.76,-0.391],[6.91,-0.091],[7.04,-0.357],[7.10,-0.345],[7.23,-0.472],[7.32,-0.405],[7.41,-0.472],[7.58,-0.28],[7.72,-0.563],[7.82,-0.245],[7.90,-0.288],[8.01,0.153],[8.12,-0.34],[8.18,-0.345],[8.25,-0.405],[8.34,-0.129],[8.44,-0.34],[8.51,-0.262],[8.60,-0.391],[8.66,-0.305],[8.76,-0.468],[8.88,0.252],[9.03,-0.22],[9.12,-0.194],[9.20,-0.434],[9.33,0.844],[9.44,-0.365],[9.55,-0.014],[9.63,-0.125],[9.75,0.012],[9.84,0.20],[9.94,0.029],[10.04,0.384],[10.16,0.089],[10.31,-0.305],[10.43,-0.005],[10.55,0.158],[10.65,-0.057],[10.75,-0.151],[10.87,-0.108],[10.98,-0.314],[11.17,-0.048],[11.25,-0.139],[11.39,0.235],[11.51,-0.039],[11.65,-0.331],[11.77,0.098],[11.88,-0.122],[11.95,-0.125],[12.07,-0.22],[12.15,-0.28],[12.25,-0.163],[12.42,-0.679],[12.55,-0.551],[12.63,-0.588],[12.73,-0.358],[12.81,-0.503],[12.94,-0.129],[12.98,-0.177]];
const mayportObs=[[1.00,-0.202],[1.06,-0.383],[1.15,-0.245],[1.28,-0.197],[1.42,-0.43],[1.49,-0.413],[1.56,-0.437],[1.68,-0.228],[1.79,-0.391],[2.00,-0.623],[2.16,-0.185],[2.30,-0.533],[2.38,-0.511],[2.44,-0.511],[2.55,-0.328],[2.62,-0.352],[2.75,-0.105],[2.90,-0.443],[3.02,-0.468],[3.12,-0.396],[3.22,-0.485],[3.34,-0.197],[3.47,-0.511],[3.57,-0.365],[3.69,-0.117],[3.81,-0.348],[3.90,-0.266],[3.97,-0.317],[4.05,-0.202],[4.16,-0.413],[4.27,-0.194],[4.34,-0.28],[4.44,-0.208],[4.52,-0.28],[4.61,-0.18],[4.69,-0.214],[4.77,-0.194],[4.93,-0.417],[5.05,-0.297],[5.15,-0.451],[5.25,-0.365],[5.30,-0.383],[5.43,-0.208],[5.54,-0.357],[5.64,-0.271],[5.79,-0.494],[5.90,-0.322],[5.98,-0.28],[6.05,-0.202],[6.13,-0.245],[6.24,-0.022],[6.36,-0.305],[6.50,-0.328],[6.62,-0.28],[6.76,-0.391],[6.91,-0.039],[7.02,-0.245],[7.10,-0.331],[7.20,-0.425],[7.31,-0.288],[7.39,-0.31],[7.48,-0.28],[7.56,-0.288],[7.64,-0.228],[7.74,-0.417],[7.82,-0.245],[7.90,-0.262],[8.01,0.072],[8.12,-0.28],[8.24,-0.283],[8.33,-0.156],[8.44,-0.314],[8.52,-0.202],[8.60,-0.262],[8.68,-0.211],[8.76,-0.245],[8.88,0.115],[9.03,-0.082],[9.12,-0.094],[9.20,-0.202],[9.33,0.569],[9.44,-0.057],[9.55,0.149],[9.66,0.063],[9.83,0.298],[9.92,0.184],[10.04,0.41],[10.17,0.192],[10.29,-0.065],[10.42,0.098],[10.57,0.30],[10.68,-0.074],[10.76,-0.142],[10.86,-0.099],[11.00,-0.245],[11.16,-0.082],[11.26,-0.134],[11.38,0.175],[11.52,0.067],[11.66,-0.262],[11.79,0.015],[11.90,-0.057],[11.98,-0.142],[12.04,-0.074],[12.14,-0.108],[12.26,0.055],[12.42,-0.391],[12.52,-0.305],[12.60,-0.434],[12.71,-0.22],[12.82,-0.40],[12.92,-0.082],[12.98,-0.194]];
const fernandinaRun=[[1.00,-0.076],[1.07,-0.373],[1.18,-0.161],[1.29,-0.023],[1.42,-0.309],[1.50,-0.235],[1.61,-0.352],[1.72,-0.369],[1.80,-0.398],[1.97,-0.659],[2.03,-0.638],[2.17,-0.182],[2.30,-0.542],[2.40,-0.504],[2.46,-0.532],[2.54,-0.511],[2.64,-0.511],[2.78,-0.119],[2.90,-0.267],[3.03,-0.383],[3.14,-0.225],[3.23,-0.373],[3.35,-0.002],[3.47,-0.521],[3.56,-0.405],[3.61,-0.426],[3.72,-0.055],[3.82,-0.278],[3.88,-0.235],[3.97,-0.341],[4.06,-0.161],[4.16,-0.521],[4.26,-0.161],[4.33,-0.235],[4.41,-0.225],[4.51,-0.373],[4.59,-0.235],[4.67,-0.32],[4.81,-0.002],[4.96,-0.335],[5.04,-0.284],[5.14,-0.426],[5.23,-0.278],[5.32,-0.341],[5.42,-0.076],[5.53,-0.246],[5.63,-0.199],[5.79,-0.458],[5.91,-0.235],[6.01,-0.178],[6.11,-0.373],[6.24,0.161],[6.37,-0.288],[6.46,-0.331],[6.59,-0.186],[6.76,-0.362],[6.89,0.017],[7.05,-0.383],[7.11,-0.373],[7.22,-0.496],[7.32,-0.411],[7.41,-0.483],[7.59,-0.225],[7.72,-0.542],[7.82,-0.161],[7.88,-0.182],[8.00,0.242],[8.12,-0.362],[8.23,-0.432],[8.34,-0.055],[8.44,-0.352],[8.49,-0.225],[8.59,-0.373],[8.67,-0.225],[8.75,-0.415],[8.88,0.40],[9.02,-0.278],[9.11,-0.182],[9.20,-0.436],[9.33,1.093],[9.45,-0.426],[9.56,0.03],[9.65,-0.061],[9.75,0.051],[9.84,0.263],[9.94,0.008],[10.05,0.475],[10.16,0.157],[10.30,-0.362],[10.44,-0.087],[10.54,0.288],[10.66,-0.119],[10.70,-0.182],[10.83,-0.178],[10.95,-0.405],[11.17,0.047],[11.27,-0.055],[11.38,0.352],[11.49,0.04],[11.65,-0.347],[11.76,0.136],[11.88,-0.144],[11.94,-0.15],[12.02,-0.208],[12.08,-0.186],[12.16,-0.225],[12.24,-0.076],[12.43,-0.78],[12.53,-0.547],[12.61,-0.617],[12.74,-0.278],[12.82,-0.521],[12.94,-0.03],[12.98,-0.161]];
const fernandinaObs=[[1.00,-0.225],[1.06,-0.415],[1.18,-0.246],[1.28,-0.172],[1.40,-0.415],[1.48,-0.398],[1.56,-0.458],[1.69,-0.25],[1.81,-0.436],[1.98,-0.648],[2.17,-0.161],[2.28,-0.553],[2.38,-0.489],[2.46,-0.521],[2.54,-0.331],[2.62,-0.373],[2.75,-0.076],[2.95,-0.458],[3.09,-0.362],[3.20,-0.50],[3.34,-0.136],[3.47,-0.532],[3.59,-0.362],[3.70,-0.093],[3.81,-0.331],[3.89,-0.214],[3.96,-0.299],[4.06,-0.161],[4.16,-0.436],[4.25,-0.157],[4.35,-0.263],[4.43,-0.199],[4.51,-0.292],[4.59,-0.193],[4.67,-0.225],[4.77,-0.136],[4.94,-0.394],[5.04,-0.292],[5.14,-0.479],[5.24,-0.362],[5.32,-0.405],[5.42,-0.129],[5.53,-0.373],[5.65,-0.267],[5.79,-0.468],[5.91,-0.299],[6.00,-0.235],[6.12,-0.263],[6.24,0.019],[6.37,-0.309],[6.48,-0.362],[6.61,-0.288],[6.76,-0.373],[6.89,-0.013],[7.03,-0.32],[7.09,-0.326],[7.20,-0.468],[7.31,-0.369],[7.41,-0.394],[7.47,-0.299],[7.63,-0.214],[7.72,-0.405],[7.82,-0.246],[7.88,-0.284],[8.00,0.083],[8.12,-0.32],[8.23,-0.299],[8.34,-0.14],[8.44,-0.341],[8.50,-0.214],[8.59,-0.278],[8.67,-0.193],[8.75,-0.225],[8.86,0.157],[9.02,-0.129],[9.11,-0.119],[9.19,-0.256],[9.33,0.686],[9.45,-0.203],[9.56,0.114],[9.65,0.019],[9.75,0.093],[9.84,0.252],[9.94,0.093],[10.05,0.394],[10.16,0.199],[10.34,-0.161],[10.44,-0.013],[10.56,0.288],[10.68,-0.013],[10.78,-0.246],[10.86,-0.214],[10.98,-0.352],[11.17,-0.097],[11.25,-0.172],[11.38,0.167],[11.49,0.04],[11.65,-0.352],[11.78,-0.055],[11.88,-0.114],[11.96,-0.199],[12.08,-0.076],[12.15,-0.119],[12.26,0.03],[12.39,-0.50],[12.50,-0.362],[12.59,-0.50],[12.70,-0.256],[12.82,-0.479],[12.93,-0.108],[12.98,-0.246]];

const panels=[
 {title:'station:Fort Myers(8725520) (datum:xGEOID)',obs:fortMyersObs,run:fortMyersRun,ticks:fortMyersTicks,dec:1,min:-0.5046,max:0.5935,col:0,row:0,legend:true},
 {title:'station:Naples(8725110) (datum:xGEOID)',obs:naplesObs,run:naplesRun,ticks:naplesTicks,dec:1,min:-0.384,max:0.4875,col:1,row:0},
 {title:'station:Key West(8724580) (datum:xGEOID)',obs:keyWestObs,run:keyWestRun,ticks:keyWestTicks,dec:1,min:-0.2756,max:0.4635,col:0,row:1},
 {title:'station:Vaca Key(8723970) (datum:xGEOID)',obs:vacaKeyObs,run:vacaKeyRun,ticks:vacaKeyTicks,dec:1,min:-0.249,max:0.385,col:1,row:1},
 {title:'station:Virginia Key(8723214) (datum:xGEOID)',obs:virginiaKeyObs,run:virginiaKeyRun,ticks:virginiaKeyTicks,dec:1,min:-0.371,max:0.403,col:0,row:2},
 {title:'station:South Port Everglades(8722956) (datum:xGEOID)',obs:southPortObs,run:southPortRun,ticks:southPortTicks,dec:1,min:-0.357,max:0.3187,col:1,row:2},
 {title:'station:Lake Worth Pier(8722670) (datum:xGEOID)',obs:lakeWorthObs,run:lakeWorthRun,ticks:lakeWorthTicks,dec:1,min:-0.4118,max:0.3066,col:0,row:3},
 {title:'station:Trident Pier(8721604) (datum:xGEOID)',obs:tridentObs,run:tridentRun,ticks:tridentTicks,dec:1,min:-0.576,max:0.4417,col:1,row:3},
 {title:'station:Mayport(8720218) (datum:xGEOID)',obs:mayportObs,run:mayportRun,ticks:mayportTicks,dec:1,min:-0.754,max:0.92,col:0,row:4},
 {title:'station:Fernandina Beach(8720030) (datum:xGEOID)',obs:fernandinaObs,run:fernandinaRun,ticks:fernandinaTicks,dec:2,min:-0.877,max:1.193,col:1,row:4}
];
const xMin=1, xMax=12.98;

// layout in reference pixels (5150 x 1950), mapped onto the real viewport
const vw=window.innerWidth||5150, vh=window.innerHeight||1950;
const sx=vw/5150, sy=vh/1950;
const X=v=>v*sx, Y=v=>v*sy;
document.body.style.width=vw+'px';document.body.style.height=vh+'px';
const cols=[{left:0,right:2600,axisLeft:79,axisRight:2572},{left:2560,right:5150,axisLeft:2640,axisRight:5134}];
const ROW_STEP=387, CANVAS_H=398;
const FONT='"DejaVu Sans", sans-serif';
const TICK_FS=13.9*sy, TITLE_FS=16.7*sy;

const fmt=(v,d)=>{const s=(Math.abs(v)<1e-9?0:v).toFixed(d);return s.replace('-','\u2212');};
const framePlugin={id:'frame',afterDatasetsDraw(chart){const {ctx,chartArea:a}=chart;ctx.save();ctx.strokeStyle='#000';ctx.lineWidth=1.1;ctx.setLineDash([]);ctx.strokeRect(a.left,a.top,a.right-a.left,a.bottom-a.top);ctx.restore();}};
const legendPlugin={id:'insideLegend',afterDraw(chart,args,opts){
  if(!opts||!opts.display)return;
  const {ctx,chartArea:a}=chart;
  ctx.save();
  ctx.font=TICK_FS+'px '+FONT;
  const tw=Math.max(...chart.data.datasets.map(d=>ctx.measureText(d.label).width));
  const w=X(44)+tw+X(8), h=Y(46);
  const x=a.right-X(6)-w, y=a.top+Y(7);
  ctx.beginPath();const r=3;
  ctx.moveTo(x+r,y);ctx.lineTo(x+w-r,y);ctx.arcTo(x+w,y,x+w,y+r,r);ctx.lineTo(x+w,y+h-r);ctx.arcTo(x+w,y+h,x+w-r,y+h,r);ctx.lineTo(x+r,y+h);ctx.arcTo(x,y+h,x,y+h-r,r);ctx.lineTo(x,y+r);ctx.arcTo(x,y,x+r,y,r);ctx.closePath();
  ctx.fillStyle='rgba(255,255,255,0.8)';ctx.fill();ctx.strokeStyle='#cccccc';ctx.lineWidth=1.1;ctx.stroke();
  chart.data.datasets.forEach((ds,i)=>{
    const cy=y+Y(11.5)+i*Y(22);
    ctx.beginPath();ctx.setLineDash(ds.borderDash||[]);ctx.strokeStyle=ds.borderColor;ctx.lineWidth=ds.borderWidth;
    ctx.moveTo(x+X(4),cy);ctx.lineTo(x+X(32),cy);ctx.stroke();ctx.setLineDash([]);
    ctx.fillStyle='#000';ctx.textBaseline='middle';ctx.textAlign='left';
    ctx.fillText(ds.label,x+X(44),cy);
  });
  ctx.restore();
}};

panels.forEach(p=>{
  const c=cols[p.col];
  const cl=Math.round(X(c.left)), cr=Math.round(X(c.right));
  const cw=cr-cl;
  const yw=X(c.axisLeft)-cl, padR=cr-X(c.axisRight);
  const ct=Math.round(Y(p.row*ROW_STEP)), ch=Math.round(Y(CANVAS_H));
  const cv=document.createElement('canvas');
  cv.width=cw;cv.height=ch;
  cv.style.left=cl+'px';cv.style.top=ct+'px';
  cv.style.width=cw+'px';cv.style.height=ch+'px';
  document.body.appendChild(cv);
  const common={pointRadius:0,pointHoverRadius:0,fill:false,cubicInterpolationMode:'monotone'};
  const tickFont={family:FONT,size:TICK_FS};
  new Chart(cv,{
    type:'line',
    data:{datasets:[
      Object.assign({label:seriesLabels[0],data:p.obs,borderColor:'#ff0000',borderWidth:2.1,borderDash:[8,3.5,2,3.5].map(X),order:1},common),
      Object.assign({label:seriesLabels[1],data:p.run,borderColor:'#0000ff',borderWidth:1,order:0},common)
    ]},
    options:{
      responsive:false,animation:false,devicePixelRatio:1,
      layout:{padding:{left:0,right:padR,top:0,bottom:0}},
      plugins:{
        legend:{display:false},tooltip:{enabled:false},
        title:{display:true,fullSize:false,text:p.title,color:'#000',font:{family:FONT,size:TITLE_FS,weight:'normal',lineHeight:1.2},padding:{top:Y(13),bottom:Y(4)}},
        insideLegend:{display:!!p.legend}
      },
      scales:{
        x:{type:'linear',min:xMin,max:xMax,
          afterBuildTicks:s=>{s.ticks=xTicks.map(v=>({value:v}));},
          afterFit:s=>{s.height=Y(35);},
          ticks:{color:'#000',font:tickFont,padding:Y(4),maxRotation:0,autoSkip:false,callback:v=>String(v)},
          grid:{display:true,drawOnChartArea:false,drawTicks:true,tickLength:Y(5),color:'#000',lineWidth:1.1},
          border:{display:false}},
        y:{type:'linear',min:p.min,max:p.max,
          afterBuildTicks:s=>{s.ticks=p.ticks.map(v=>({value:v}));},
          afterFit:s=>{s.width=yw;},
          ticks:{color:'#000',font:tickFont,padding:X(5),autoSkip:false,callback:v=>fmt(v,p.dec)},
          grid:{display:true,drawOnChartArea:false,drawTicks:true,tickLength:X(5),color:'#000',lineWidth:1.1},
          border:{display:false},
          title:{display:p.col===0,text:'Elevation (m)',color:'#000',font:{family:FONT,size:TICK_FS,lineHeight:1.2},padding:{top:Math.max(0,X(15.7)-TICK_FS*0.6),bottom:0}}}
      }
    },
    plugins:[framePlugin,legendPlugin]
  });
});
</script>
</body></html>
